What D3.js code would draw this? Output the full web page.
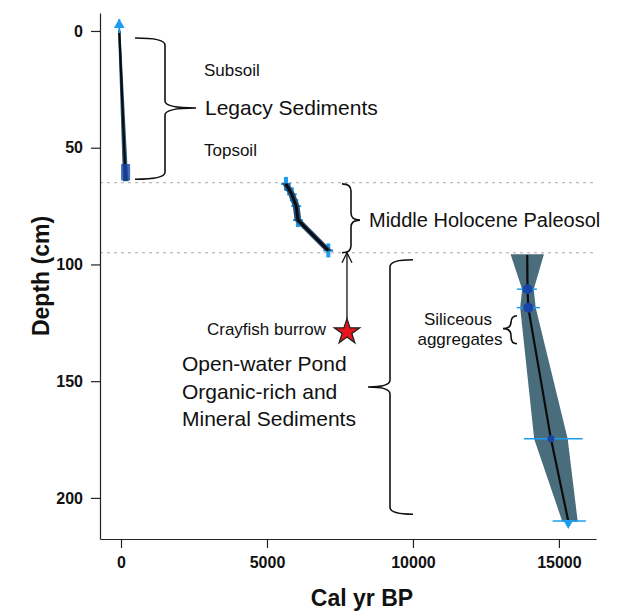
<!DOCTYPE html>
<html>
<head>
<style>
  body { margin: 0; background: #fff; }
  text { font-family: "Liberation Sans", Arial, sans-serif; fill: #111; }
  .tick text { font-weight: bold; font-size: 16px; }
</style>
</head>
<body>
<svg id="svg" width="628" height="612"></svg>
<script src="https://d3js.org/d3.v7.min.js"></script>
<script>
// age-depth model (age in cal yr BP, depth in cm)
const legacyAge = [-60, 140, 165]
const legacyDepth = [0, 59, 64]
const legacyLo = [-75, 80, 95]
const legacyHi = [-45, 200, 235]

const paleoAge = [5650, 5850, 6000, 6060, 7100]
const paleoDepth = [65.5, 70, 75, 81, 94]
const paleoLo = [5560, 5760, 5910, 5970, 7010]
const paleoHi = [5740, 5940, 6090, 6150, 7190]

const pondAge = [13914, 13925, 13950, 14726, 15320]
const pondDepth = [96, 110.6, 118.5, 174.7, 209.9]
const pondLo = [13379, 13767, 13699, 14178, 15137]
const pondHi = [14452, 14110, 14178, 15274, 15616]
const pondErrLo = [null, 13562, 13551, 13801, 14784]
const pondErrHi = [null, 14247, 14349, 15812, 15925]

const boundaries = [65, 95]
const burrowAge = 7740
const burrowDepth = 128.5

const xTicks = [0, 5000, 10000, 15000]
const yTicks = [0, 50, 100, 150, 200]

const svg = d3.select('#svg')

// scales (R style padding around the data range)
const x = d3.scaleLinear().domain([-720, 16270]).range([100, 596])
const y = d3.scaleLinear().domain([-7.7, 217.6]).range([13, 539])

// dashed unit boundaries
svg.selectAll('.bound')
  .data(boundaries)
  .enter().append('line')
  .attr('x1', 100).attr('x2', 596)
  .attr('y1', d => y(d)).attr('y2', d => y(d))
  .style('stroke', '#aaa')
  .style('stroke-dasharray', '3,4')

// axes
svg.append('g')
  .attr('transform', `translate(0,${y.range()[1]})`)
  .call(d3.axisBottom(x).tickValues(xTicks).tickSize(9).tickSizeOuter(0).tickPadding(9).tickFormat(d3.format('d')))
svg.append('g')
  .attr('transform', `translate(${x.range()[0]},0)`)
  .call(d3.axisLeft(y).tickValues(yTicks).tickSize(9).tickSizeOuter(0).tickPadding(8))
svg.selectAll('.domain, .tick line').style('stroke', '#222').style('stroke-width', 1.2)

svg.append('text')
  .attr('x', 362).attr('y', 606)
  .attr('text-anchor', 'middle')
  .style('font-weight', 'bold').style('font-size', '23px')
  .text('Cal yr BP')
svg.append('text')
  .attr('transform', 'translate(49,276) rotate(-90)')
  .attr('text-anchor', 'middle')
  .style('font-weight', 'bold').style('font-size', '23px')
  .text('Depth (cm)')

// draw one segment of the model: band, then the line
function segment(age, depth, lo, hi, bandColor, lw) {
  const pts = age.map((a, i) => ({ a, d: depth[i], lo: lo[i], hi: hi[i] }))
  svg.append('path')
    .datum(pts)
    .attr('d', d3.area().x0(d => x(d.lo)).x1(d => x(d.hi)).y(d => y(d.d)))
    .style('fill', bandColor)
    .style('stroke', bandColor)
    .style('stroke-width', 1.5)
  svg.append('path')
    .datum(pts)
    .attr('d', d3.line().x(d => x(d.a)).y(d => y(d.d)))
    .style('fill', 'none')
    .style('stroke', '#0b0b0b')
    .style('stroke-width', lw)
  return pts
}

const blue = '#1e9cf0'
const darkBlue = '#1746a8'

// legacy sediments
segment(legacyAge, legacyDepth, legacyLo, legacyHi, '#2c5a7a', 2.2)
svg.append('path')
  .attr('d', d3.symbol(d3.symbolTriangle, 50)())
  .attr('transform', `translate(${x(legacyAge[0])},${y(legacyDepth[0]) - 6})`)
  .style('fill', blue)
svg.append('line')
  .attr('x1', x(legacyAge[0])).attr('x2', x(legacyAge[0]))
  .attr('y1', y(legacyDepth[0]) - 12).attr('y2', y(legacyDepth[0]) + 2)
  .style('stroke', blue).style('stroke-width', 2)
svg.append('rect')
  .attr('x', x(legacyAge[1]) - 4).attr('y', y(57))
  .attr('width', 9).attr('height', y(64) - y(57))
  .style('fill', darkBlue).style('opacity', 0.8)

// middle holocene paleosol
paleoAge.forEach((a, i) => {
  svg.append('line')
    .attr('x1', x(a - 170)).attr('x2', x(a + 170))
    .attr('y1', y(paleoDepth[i])).attr('y2', y(paleoDepth[i]))
    .style('stroke', blue).style('stroke-width', 2)
  svg.append('line')
    .attr('x1', x(a)).attr('x2', x(a))
    .attr('y1', y(paleoDepth[i] - 3)).attr('y2', y(paleoDepth[i] + 3))
    .style('stroke', blue).style('stroke-width', 4)
})
segment(paleoAge, paleoDepth, paleoLo, paleoHi, '#1f4f7a', 2.8)

// open-water pond
segment(pondAge, pondDepth, pondLo, pondHi, '#4a6d7e', 2.2)
pondAge.forEach((a, i) => {
  if (pondErrLo[i] === null) return
  svg.append('line')
    .attr('x1', x(pondErrLo[i])).attr('x2', x(pondErrHi[i]))
    .attr('y1', y(pondDepth[i])).attr('y2', y(pondDepth[i]))
    .style('stroke', blue).style('stroke-width', 1.5)
  if (i < 4) {
    svg.append('circle')
      .attr('cx', x(a)).attr('cy', y(pondDepth[i]))
      .attr('r', i < 3 ? 5 : 3.5)
      .style('fill', darkBlue)
  } else {
    svg.append('path')
      .attr('d', d3.symbol(d3.symbolTriangle, 45)())
      .attr('transform', `translate(${x(a)},${y(pondDepth[i]) + 2}) rotate(180)`)
      .style('fill', blue)
  }
})

// curly brace: hooks end at xh, spine at xv, tip at xt
function brace(xh, xv, xt, y1, y2, ym) {
  const r = 7
  const p = d3.path()
  p.moveTo(xh, y1)
  p.quadraticCurveTo(xv, y1, xv, y1 + r)
  p.lineTo(xv, ym - r)
  p.quadraticCurveTo(xv, ym, xt, ym)
  p.quadraticCurveTo(xv, ym, xv, ym + r)
  p.lineTo(xv, y2 - r)
  p.quadraticCurveTo(xv, y2, xh, y2)
  svg.append('path')
    .attr('d', p.toString())
    .style('fill', 'none')
    .style('stroke', '#111')
    .style('stroke-width', 1.6)
}

brace(135, 165, 196, y(3), y(63.5), y(33))
brace(342, 351, 360, y(65.5), y(95), y(81))
brace(413, 390, 368, y(98), y(207), y(152.5))
brace(517, 511, 503, y(122), y(134), y(127.5))

// crayfish burrow: arrow up to the paleosol base
const bx = x(burrowAge)
svg.append('line')
  .attr('x1', bx).attr('x2', bx)
  .attr('y1', y(burrowDepth) - 12).attr('y2', y(boundaries[1]))
  .style('stroke', '#111').style('stroke-width', 1.3)
svg.append('path')
  .attr('d', `M${bx - 5},${y(boundaries[1]) + 10}L${bx},${y(boundaries[1])}L${bx + 5},${y(boundaries[1]) + 10}`)
  .style('fill', 'none').style('stroke', '#111').style('stroke-width', 1.3)
svg.append('path')
  .attr('d', d3.symbol(d3.symbolStar, 200)())
  .attr('transform', `translate(${bx},${y(burrowDepth) + 1})`)
  .style('fill', '#e8141c').style('stroke', '#222').style('stroke-width', 1.3)

// labels
const labels = [
  { t: 'Subsoil', x: 204, y: 76, s: 17, a: 'start' },
  { t: 'Legacy Sediments', x: 205, y: 115, s: 21, a: 'start' },
  { t: 'Topsoil', x: 204, y: 156, s: 17, a: 'start' },
  { t: 'Middle Holocene Paleosol', x: 369, y: 227, s: 20, a: 'start' },
  { t: 'Crayfish burrow', x: 326, y: 335, s: 17, a: 'end' },
  { t: 'Open-water Pond', x: 182, y: 371, s: 21, a: 'start' },
  { t: 'Organic-rich and', x: 182, y: 399, s: 21, a: 'start' },
  { t: 'Mineral Sediments', x: 182, y: 426, s: 21, a: 'start' },
  { t: 'Siliceous', x: 458, y: 325, s: 17, a: 'middle' },
  { t: 'aggregates', x: 460, y: 345, s: 17, a: 'middle' }
]
svg.selectAll('.lab')
  .data(labels)
  .enter().append('text')
  .attr('x', d => d.x).attr('y', d => d.y)
  .attr('text-anchor', d => d.a)
  .style('font-size', d => d.s + 'px')
  .text(d => d.t)
</script>
</body>
</html>
